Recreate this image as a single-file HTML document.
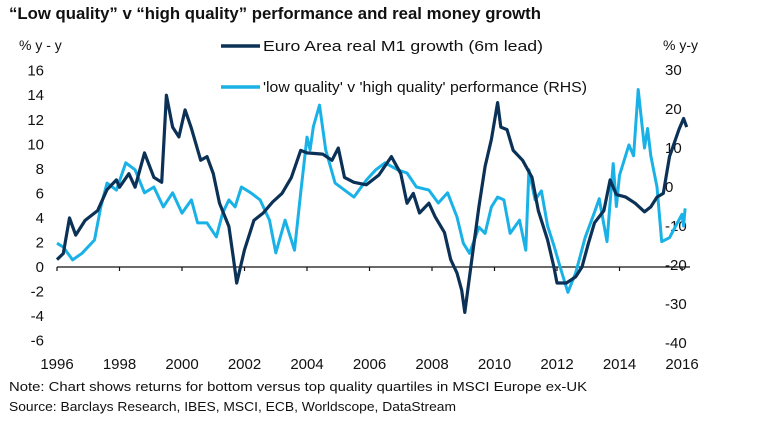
<!DOCTYPE html>
<html><head><meta charset="utf-8"><style>
body{margin:0;background:#fff;width:778px;height:424px;overflow:hidden;font-family:"Liberation Sans",sans-serif;color:#111}
svg text{font-family:"Liberation Sans",sans-serif;fill:#111}
</style></head><body>
<svg id="c" width="778" height="424">
<text x="9" y="19" font-size="17" font-weight="bold" textLength="532" lengthAdjust="spacingAndGlyphs">“Low quality” v “high quality” performance and real money growth</text>
<text x="19" y="50" font-size="14">% y - y</text>
<text x="663" y="50" font-size="14">% y-y</text>
<line x1="221" y1="46" x2="260" y2="46" stroke="#0b3256" stroke-width="3.5"/>
<text x="263" y="51" font-size="14.5" textLength="280" lengthAdjust="spacingAndGlyphs">Euro Area real M1 growth (6m lead)</text>
<line x1="221" y1="87" x2="260" y2="87" stroke="#1ab2e6" stroke-width="3.5"/>
<text x="263" y="92" font-size="14.5" textLength="324" lengthAdjust="spacingAndGlyphs">'low quality' v 'high quality' performance (RHS)</text>
<g id="axes"></g>
<g id="series"></g>
<text x="9" y="391" font-size="13" textLength="578" lengthAdjust="spacingAndGlyphs">Note: Chart shows returns for bottom versus top quality quartiles in MSCI Europe ex-UK</text>
<text x="9" y="411" font-size="13" textLength="447" lengthAdjust="spacingAndGlyphs">Source: Barclays Research, IBES, MSCI, ECB, Worldscope, DataStream</text>
</svg>
<script>
const leftTicks=[16,14,12,10,8,6,4,2,0,-2,-4,-6];
const rightTicks=[30,20,10,0,-10,-20,-30,-40];
const yearTicks=[1996,1998,2000,2002,2004,2006,2008,2010,2012,2014,2016];
const m1Dates=[1996.0,1996.2,1996.4,1996.6,1996.9,1997.3,1997.6,1997.9,1998.0,1998.3,1998.5,1998.8,1999.1,1999.35,1999.5,1999.7,1999.9,2000.1,2000.3,2000.6,2000.8,2001.0,2001.2,2001.5,2001.65,2001.75,2002.0,2002.3,2002.6,2002.9,2003.2,2003.5,2003.8,2004.0,2004.5,2004.8,2005.0,2005.2,2005.5,2005.9,2006.3,2006.7,2007.0,2007.2,2007.4,2007.6,2007.9,2008.1,2008.4,2008.6,2008.8,2008.95,2009.05,2009.3,2009.5,2009.7,2009.9,2010.1,2010.2,2010.4,2010.6,2010.9,2011.2,2011.4,2011.7,2011.9,2012.0,2012.3,2012.6,2012.8,2013.0,2013.2,2013.5,2013.7,2013.9,2014.2,2014.5,2014.8,2015.0,2015.2,2015.4,2015.6,2015.9,2016.05,2016.15];
const m1Values=[0.6,1.1,4.0,2.6,3.8,4.6,6.3,7.1,6.5,7.6,6.5,9.3,7.3,6.9,14.0,11.4,10.6,12.8,11.3,8.7,9.0,7.6,5.2,3.3,0.6,-1.3,1.4,3.8,4.4,5.3,6.0,7.3,9.5,9.3,9.2,8.7,9.7,7.3,6.9,6.7,7.5,9.0,7.6,5.2,6.0,4.4,5.2,4.1,2.8,0.6,-0.5,-1.9,-3.7,1.1,4.9,8.2,10.4,13.4,11.4,11.2,9.5,8.7,7.3,4.6,2.2,0,-1.3,-1.3,-0.8,0,1.9,3.6,4.6,7.1,5.9,5.7,5.2,4.5,4.9,5.7,6.0,9.0,11.2,12.1,11.4];
const qDates=[1996.0,1996.2,1996.5,1996.8,1997.2,1997.4,1997.6,1997.9,1998.2,1998.5,1998.8,1999.1,1999.4,1999.7,2000.0,2000.3,2000.5,2000.8,2001.1,2001.3,2001.5,2001.7,2001.9,2002.2,2002.5,2002.8,2003.0,2003.3,2003.6,2003.8,2004.0,2004.1,2004.2,2004.4,2004.6,2004.9,2005.2,2005.5,2005.9,2006.2,2006.5,2006.9,2007.2,2007.5,2007.9,2008.2,2008.5,2008.8,2009.0,2009.2,2009.5,2009.7,2009.9,2010.1,2010.3,2010.5,2010.8,2011.0,2011.1,2011.3,2011.5,2011.7,2011.9,2012.1,2012.35,2012.6,2012.9,2013.2,2013.35,2013.6,2013.8,2013.9,2014.0,2014.3,2014.45,2014.6,2014.8,2014.9,2015.0,2015.2,2015.35,2015.6,2015.8,2016.0,2016.05,2016.1];
const qValues=[-14.4,-15.4,-18.7,-17,-13.6,-5.1,1,-0.8,6.2,4.4,-1.5,0,-5.1,-1.5,-6.7,-3.3,-9.2,-9.2,-12.8,-6.7,-3.3,-5.1,0,-1.5,-3.3,-8.5,-16.9,-8.5,-16.2,-1.5,12.8,9.5,15.4,21,9.5,1,-0.8,-2.6,1.8,4.4,6.2,4.4,3.6,0,-0.8,-4.1,-1.5,-7.7,-14.4,-17,-10.3,-11.9,-5.1,-2.6,-3.3,-11.9,-8.5,-16.2,4.4,-3.3,-1,-10,-15,-20.5,-27,-22,-13,-6.5,-3,-14,6,-5,3,10.8,8,25,10,15,8,0,-14,-13,-10,-7,-10,-5.5];
const X=y=>57+(y-1996)*31.25;
const YL=v=>267-v*12.27;
const YR=v=>70+(30-v)*3.9;
const NS='http://www.w3.org/2000/svg';
const ax=document.getElementById('axes'),se=document.getElementById('series');
function mk(tag,attrs,parent){const e=document.createElementNS(NS,tag);for(const k in attrs)e.setAttribute(k,attrs[k]);parent.appendChild(e);return e;}
leftTicks.forEach(v=>{const t=mk('text',{x:44,y:YL(v)+5,'font-size':15,'text-anchor':'end'},ax);t.textContent=v;

});
rightTicks.forEach(v=>{const t=mk('text',{x:665,y:YR(v)+5,'font-size':15},ax);t.textContent=v;

});
const base=mk('line',{x1:57,x2:690,y1:YL(0),y2:YL(0),stroke:'#111','stroke-width':1.2},ax);


yearTicks.forEach(y=>{const l=mk('line',{x1:X(y),x2:X(y),y1:YL(0),y2:YL(0)+4,stroke:'#111','stroke-width':1.2},ax);


const t=mk('text',{x:X(y),y:369,'font-size':15,'text-anchor':'middle'},ax);t.textContent=y;

});
const qd=qDates.map((d,i)=>(i?'L':'M')+X(d).toFixed(1)+','+YR(qValues[i]).toFixed(1)).join('');
const qp=mk('path',{d:qd,fill:'none',stroke:'#1ab2e6','stroke-width':3,'stroke-linejoin':'round'},se);


const md=m1Dates.map((d,i)=>(i?'L':'M')+X(d).toFixed(1)+','+YL(m1Values[i]).toFixed(1)).join('');
const mp=mk('path',{d:md,fill:'none',stroke:'#0b3256','stroke-width':3.2,'stroke-linejoin':'round'},se);


</script>
</body></html>
